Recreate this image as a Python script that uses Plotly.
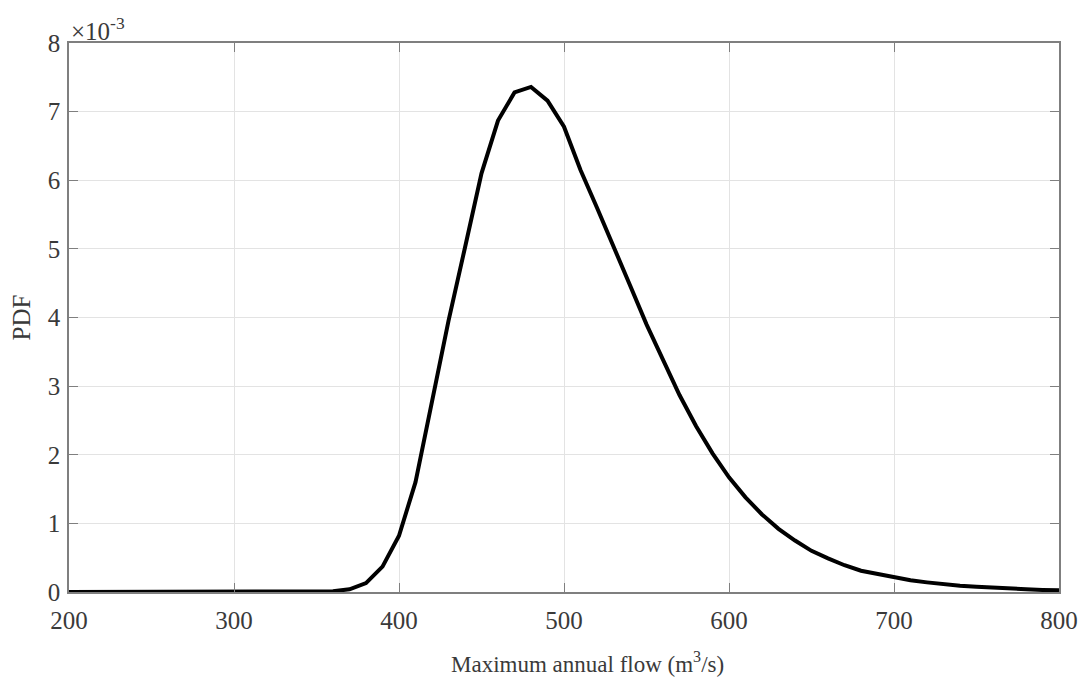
import plotly.graph_objects as go

# Maximum annual flow (m^3/s)
flow = list(range(200, 810, 10))
# PDF values in units of 1e-3
pdf = [0, 0, 0, 0, 0, 0, 0, 0, 0, 0, 0, 0, 0, 0, 0, 0,      # 200-350
       0.01, 0.04, 0.13, 0.37, 0.82, 1.6, 2.75, 3.95, 5.02, 6.1,   # 360-450
       6.87, 7.28, 7.36, 7.16, 6.78, 6.15, 5.6, 5.05, 4.47, 3.9,   # 460-550
       3.37, 2.87, 2.42, 2.02, 1.67, 1.38, 1.13, 0.92, 0.75, 0.6,  # 560-650
       0.49, 0.39, 0.31, 0.26, 0.21, 0.17, 0.14, 0.11, 0.09, 0.075,  # 660-750
       0.06, 0.05, 0.04, 0.03, 0.025]                          # 760-800

x_ticks = [200, 300, 400, 500, 600, 700, 800]
y_ticks = [0, 1, 2, 3, 4, 5, 6, 7, 8]

font_family = "Liberation Serif, Times New Roman, serif"
text_color = "#3a3a3a"

fig = go.Figure()
fig.add_trace(go.Scatter(x=flow, y=pdf, mode="lines",
                         line=dict(color="black", width=4),
                         showlegend=False))

axis_common = dict(
    showgrid=True, gridcolor="#e3e3e3", gridwidth=1,
    showline=True, linecolor="#7f7f7f", linewidth=1.5, mirror="ticks",
    ticks="inside", ticklen=9, tickcolor="#7f7f7f", tickwidth=1,
    zeroline=False, automargin=False,
    tickfont=dict(family=font_family, size=25, color=text_color),
)

fig.update_xaxes(range=[200, 800], tickvals=x_ticks, ticklabelstandoff=5,
                 **axis_common)
fig.update_yaxes(range=[0, 8], tickvals=y_ticks, ticklabelstandoff=2,
                 title=dict(text="PDF",
                            font=dict(family=font_family, size=25, color=text_color),
                            standoff=10),
                 **axis_common)

# x-axis title (placed as in the reference, slightly right of centre)
fig.add_annotation(xref="paper", yref="paper", x=0.524, y=0,
                   xanchor="center", yanchor="middle", yshift=-70,
                   showarrow=False,
                   text="Maximum annual flow (m<sup>3</sup>/s)",
                   font=dict(family=font_family, size=23, color=text_color))

fig.add_annotation(xref="paper", yref="paper", x=0, y=1,
                   xanchor="left", yanchor="bottom", showarrow=False,
                   text="×10<sup>-3</sup>", yshift=-4,
                   font=dict(family=font_family, size=25, color=text_color))

fig.update_layout(width=1085, height=677,
                  margin=dict(l=69, r=26, t=43, b=85),
                  paper_bgcolor="white", plot_bgcolor="white")

fig.write_html("out.html", config={"displayModeBar": False},
               post_script="document.body.style.margin='0px';")
